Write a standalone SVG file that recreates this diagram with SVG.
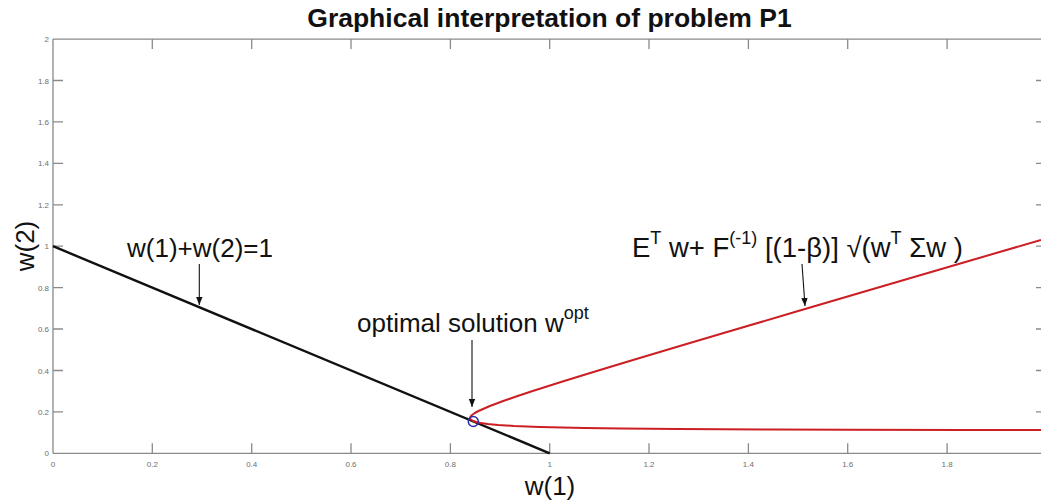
<svg xmlns="http://www.w3.org/2000/svg" width="1041" height="504" viewBox="0 0 1041 504">
<defs>
<style>
.ax{stroke:#8a8a8a;stroke-width:1.3;fill:none}
.tk{font-family:"Liberation Sans",Arial,sans-serif;font-size:8px;fill:#6e6e6e}
.lbl{font-family:"Liberation Sans",Arial,sans-serif;font-size:26px;fill:#111}
.big{font-size:27.5px}
.sup{font-size:18px}
.arr{stroke:#111;stroke-width:1.1;fill:none}
</style>
<marker id="ah" viewBox="0 0 10 10" refX="10" refY="5" markerWidth="8" markerHeight="8" markerUnits="userSpaceOnUse" orient="auto">
<path d="M0,1 L10,5 L0,9 Z" fill="#111"/>
</marker>
</defs>
<rect width="1041" height="504" fill="#fff"/>
<text x="549.5" y="27" text-anchor="middle" font-family="'Liberation Sans',Arial,sans-serif" font-size="26.5" font-weight="bold" fill="#111">Graphical interpretation of problem P1</text>
<g id="axes">
<path class="ax" d="M53,453.3 H1046 M53,39.1 H1046 M53,39.1 V453.3"/>
<path class="ax" d="M152.3,453.3 v-10 M251.7,453.3 v-10 M351,453.3 v-10 M450.4,453.3 v-10 M549.7,453.3 v-10 M649,453.3 v-10 M748.4,453.3 v-10 M847.7,453.3 v-10 M947.1,453.3 v-10
M152.3,39.1 v10 M251.7,39.1 v10 M351,39.1 v10 M450.4,39.1 v10 M549.7,39.1 v10 M649,39.1 v10 M748.4,39.1 v10 M847.7,39.1 v10 M947.1,39.1 v10
M53,411.9 h10 M53,370.5 h10 M53,329 h10 M53,287.6 h10 M53,246.2 h10 M53,204.8 h10 M53,163.4 h10 M53,121.9 h10 M53,80.5 h10
M1036,411.9 h10 M1036,370.5 h10 M1036,329 h10 M1036,287.6 h10 M1036,246.2 h10 M1036,204.8 h10 M1036,163.4 h10 M1036,121.9 h10 M1036,80.5 h10"/>
<g class="tk" text-anchor="middle">
<text x="53" y="467">0</text><text x="152.3" y="467">0.2</text><text x="251.7" y="467">0.4</text><text x="351" y="467">0.6</text><text x="450.4" y="467">0.8</text><text x="549.7" y="467">1</text><text x="649" y="467">1.2</text><text x="748.4" y="467">1.4</text><text x="847.7" y="467">1.6</text><text x="947.1" y="467">1.8</text>
</g>
<g class="tk" text-anchor="end">
<text x="49" y="456.3">0</text><text x="49" y="414.9">0.2</text><text x="49" y="373.5">0.4</text><text x="49" y="332">0.6</text><text x="49" y="290.6">0.8</text><text x="49" y="249.2">1</text><text x="49" y="207.8">1.2</text><text x="49" y="166.4">1.4</text><text x="49" y="124.9">1.6</text><text x="49" y="83.5">1.8</text><text x="49" y="42.1">2</text>
</g>
<text class="lbl" x="550" y="495" text-anchor="middle">w(1)</text>
<text class="lbl" transform="translate(34,246) rotate(-90)" text-anchor="middle">w(2)</text>
</g>
<g id="budget-line">
<path d="M53,246.2 L549.7,453.3" stroke="#111" stroke-width="2.4" fill="none"/>
</g>
<g id="risk-curve">
<polyline fill="none" stroke="#cc1f24" stroke-width="2" stroke-linejoin="round" points="1041,430.1 965.4,430 850,429.75 773.3,429.5 678.2,429 621.7,428.5 584.7,428 539.7,427 514.1,426 498.1,425 487.7,424 480.8,423 476.2,422 473.1,421 470.7,419.5 470,418 470.6,416.5 472,415 474.8,413 478.5,411 489.9,406 503.2,401 517.6,396 532.7,391 564.2,381 596.7,371 629.7,361 679.8,346 730.4,331 798.2,311 866.3,291 968.8,261 1041,239.9"/>
</g>
<g id="optimum">
<circle cx="473.3" cy="421.5" r="5" fill="none" stroke="#2b2fa8" stroke-width="1.5"/>
</g>
<g id="label-line">
<text class="lbl" x="127" y="257">w(1)+w(2)=1</text>
</g>
<g id="label-optimal">
<text class="lbl" x="357" y="332">optimal solution w<tspan class="sup" dy="-13">opt</tspan></text>
</g>
<g id="label-curve">
<text class="lbl big" x="632" y="257">E<tspan class="sup" dy="-13">T</tspan><tspan dy="13"> w+ F</tspan><tspan class="sup" dy="-13">(-1)</tspan><tspan dy="13"> [(1-β)] √(w</tspan><tspan class="sup" dy="-13">T</tspan><tspan dy="13"> Σw )</tspan></text>
</g>
<g id="connectors">
<line class="arr" x1="199.3" y1="264" x2="199.3" y2="305" marker-end="url(#ah)"/>
<line class="arr" x1="472" y1="340" x2="472" y2="407" marker-end="url(#ah)"/>
<line class="arr" x1="802" y1="264" x2="805" y2="306" marker-end="url(#ah)"/>
</g>
</svg>
